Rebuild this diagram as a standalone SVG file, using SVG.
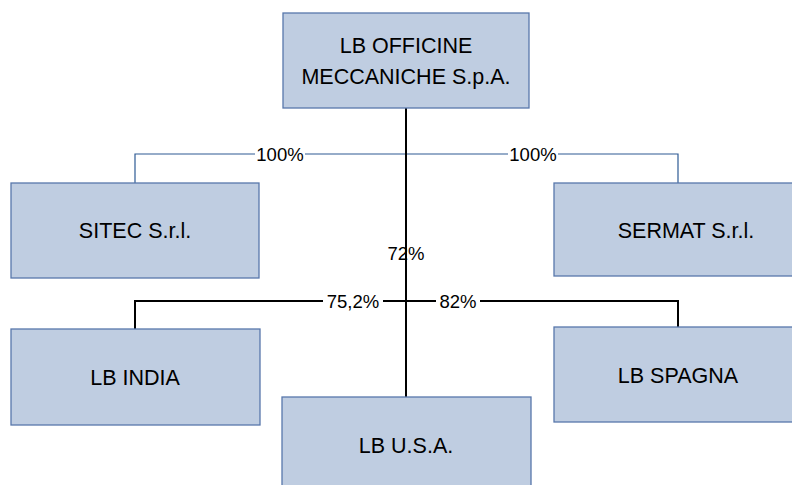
<svg xmlns="http://www.w3.org/2000/svg" width="792" height="485" viewBox="0 0 792 485">
<style>
.box{fill:#bfcde1;stroke:#5877ab;stroke-width:1.3}
.t{font-family:"Liberation Sans",Arial,sans-serif;font-size:21.5px;fill:#000;text-anchor:middle}
.l{font-family:"Liberation Sans",Arial,sans-serif;font-size:18.5px;fill:#000;text-anchor:middle}
.blue{fill:none;stroke:#2e5a94;stroke-width:1.2}
.blk{fill:none;stroke:#000;stroke-width:2}
</style>
<rect width="792" height="485" fill="#fff"/>
<g id="connectors">
<path class="blue" d="M135 183V154H678V183"/>
<path class="blk" d="M135 329V301H678V327"/>
<path class="blk" d="M406 108V397"/>
<rect x="255" y="146" width="50" height="17" fill="#fff"/>
<rect x="508" y="146" width="50" height="17" fill="#fff"/>
<rect x="323" y="293" width="60" height="17" fill="#fff"/>
<rect x="436" y="293" width="44" height="17" fill="#fff"/>
<text class="l" x="280" y="161">100%</text>
<text class="l" x="533" y="161">100%</text>
<text class="l" x="353" y="308">75,2%</text>
<text class="l" x="458" y="308">82%</text>
<text class="l" x="406" y="260">72%</text>
</g>
<g id="lb-officine">
<rect class="box" x="283" y="13" width="246" height="95"/>
<text class="t" x="406" y="53">LB OFFICINE</text>
<text class="t" x="406" y="84">MECCANICHE S.p.A.</text>
</g>
<g id="sitec">
<rect class="box" x="11" y="183" width="248" height="95"/>
<text class="t" x="135" y="238">SITEC S.r.l.</text>
</g>
<g id="sermat">
<rect class="box" x="554" y="183" width="248" height="93"/>
<text class="t" x="686" y="238">SERMAT S.r.l.</text>
</g>
<g id="lb-india">
<rect class="box" x="11" y="329" width="249" height="96"/>
<text class="t" x="135" y="385">LB INDIA</text>
</g>
<g id="lb-spagna">
<rect class="box" x="554" y="327" width="248" height="95"/>
<text class="t" x="678" y="383">LB SPAGNA</text>
</g>
<g id="lb-usa">
<rect class="box" x="282" y="397" width="249" height="95"/>
<text class="t" x="406" y="453">LB U.S.A.</text>
</g>
</svg>
